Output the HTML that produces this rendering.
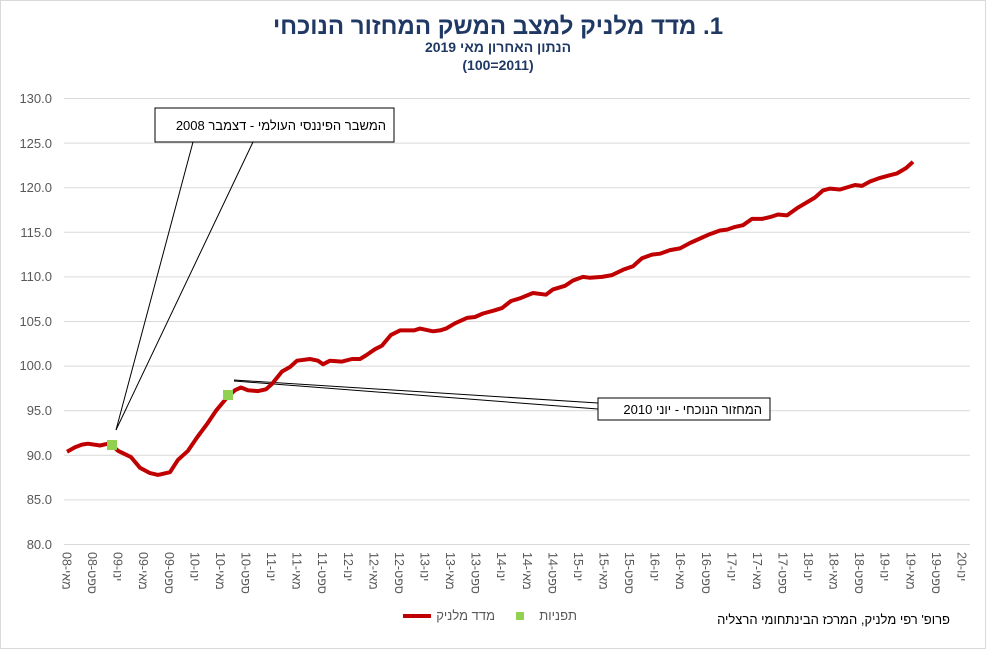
<!DOCTYPE html>
<html><head><meta charset="utf-8"><style>
body{margin:0;background:#fff;}
svg text{font-family:"Liberation Sans","Noto Sans CJK SC",sans-serif;}
</style></head><body>
<svg width="997" height="657" xmlns="http://www.w3.org/2000/svg">
<rect x="0.5" y="0.5" width="985" height="648" fill="#fff" stroke="#d9d9d9"/>
<text x="498" y="34" text-anchor="middle" font-size="24" font-weight="bold" fill="#1f3864" direction="rtl">1. מדד מלניק למצב המשק המחזור הנוכחי</text>
<text x="498" y="52" text-anchor="middle" font-size="14" font-weight="bold" fill="#1f3864" direction="rtl">הנתון האחרון מאי 2019</text>
<text x="498" y="70" text-anchor="middle" font-size="14" font-weight="bold" fill="#1f3864">(100=2011)</text>
<g stroke="#d9d9d9" stroke-width="1">
<line x1="64" x2="970" y1="98.5" y2="98.5"/><line x1="64" x2="970" y1="143.1" y2="143.1"/>
<line x1="64" x2="970" y1="187.7" y2="187.7"/><line x1="64" x2="970" y1="232.3" y2="232.3"/>
<line x1="64" x2="970" y1="276.9" y2="276.9"/><line x1="64" x2="970" y1="321.5" y2="321.5"/>
<line x1="64" x2="970" y1="366.1" y2="366.1"/><line x1="64" x2="970" y1="410.7" y2="410.7"/>
<line x1="64" x2="970" y1="455.3" y2="455.3"/><line x1="64" x2="970" y1="499.9" y2="499.9"/>
<line x1="64" x2="970" y1="544.5" y2="544.5"/>
</g>
<g font-size="13" fill="#595959" text-anchor="end">
<text x="52" y="103">130.0</text><text x="52" y="148">125.0</text><text x="52" y="192">120.0</text>
<text x="52" y="237">115.0</text><text x="52" y="281">110.0</text><text x="52" y="326">105.0</text>
<text x="52" y="370">100.0</text><text x="52" y="415">95.0</text><text x="52" y="460">90.0</text>
<text x="52" y="504">85.0</text><text x="52" y="549">80.0</text>
</g>
<g font-size="12.5" fill="#595959" id="xl"></g>
<rect x="155" y="108" width="239" height="34" fill="#fff" stroke="#000"/>
<text x="386" y="130" text-anchor="start" font-size="13" direction="rtl">המשבר הפיננסי העולמי - דצמבר 2008</text>
<line x1="193" y1="142" x2="116" y2="430" stroke="#000"/>
<line x1="253" y1="142" x2="116" y2="430" stroke="#000"/>
<rect x="598" y="398" width="172" height="22" fill="#fff" stroke="#000"/>
<text x="762" y="414" text-anchor="start" font-size="13" direction="rtl">המחזור הנוכחי - יוני 2010</text>
<line x1="598" y1="403" x2="234" y2="380" stroke="#000"/>
<line x1="598" y1="409" x2="234" y2="381" stroke="#000"/>
<polyline id="ln" fill="none" stroke="#c00000" stroke-width="4" stroke-linejoin="round" points=""/>
<rect x="107" y="440" width="10" height="10" fill="#92d050"/>
<rect x="223" y="390" width="10" height="10" fill="#92d050"/>
<line x1="403" y1="616" x2="431" y2="616" stroke="#c00000" stroke-width="4"/>
<text x="495" y="620" text-anchor="start" font-size="13" fill="#595959" direction="rtl">מדד מלניק</text>
<rect x="516" y="612" width="8" height="8" fill="#92d050"/>
<text x="577" y="620" text-anchor="start" font-size="13" fill="#595959" direction="rtl">תפניות</text>
<text x="950" y="624" text-anchor="start" font-size="13" fill="#000" direction="rtl">פרופ' רפי מלניק, המרכז הבינתחומי הרצליה</text>
</svg>
<script>
var m=["מאי","ספט","ינו"],g=document.getElementById("xl"),s="";
var yr=8,mi=0;
for(var i=0;i<36;i++){var x=67+i*25.57;var lab=m[mi]+"-"+(yr<10?"0"+yr:yr);
s+='<text transform="translate('+(x-4.5)+',552) rotate(90)" direction="rtl" text-anchor="end">'+lab+'</text>';
mi++;if(mi==2)yr++;if(mi==3)mi=0;}
g.innerHTML=s;
var d=[67,90.4,75,90.9,82,91.2,88,91.3,100,91.1,108,91.3,112,91.1,118,90.5,131,89.8,140,88.6,150,88,158,87.8,170,88.1,178,89.5,188,90.5,197,92,207,93.5,216,95,228,96.6,235,97.3,241,97.6,248,97.3,258,97.2,266,97.4,272,98,282,99.4,290,99.9,297,100.6,310,100.8,318,100.6,323,100.2,330,100.6,342,100.5,352,100.8,360,100.8,366,101.2,375,101.9,382,102.3,391,103.5,400,104,414,104,420,104.2,433,103.9,440,104,446,104.2,455,104.8,467,105.4,475,105.5,483,105.9,493,106.2,502,106.5,511,107.3,520,107.6,533,108.2,546,108,553,108.6,565,109,573,109.6,583,110,590,109.9,602,110,612,110.2,623,110.8,633,111.2,642,112.1,652,112.5,660,112.6,670,113,680,113.2,690,113.8,700,114.3,710,114.8,720,115.2,727,115.3,735,115.6,743,115.8,752,116.5,762,116.5,770,116.7,778,117,787,116.9,797,117.7,806,118.3,815,118.9,823,119.7,830,119.9,840,119.8,855,120.3,862,120.2,870,120.7,880,121.1,890,121.4,897,121.6,906,122.2,913,122.9];
var p=[];for(var j=0;j<d.length;j+=2)p.push(d[j]+","+(544.5-(d[j+1]-80)*8.92).toFixed(1));
document.getElementById("ln").setAttribute("points",p.join(" "));
</script>
</body></html>
